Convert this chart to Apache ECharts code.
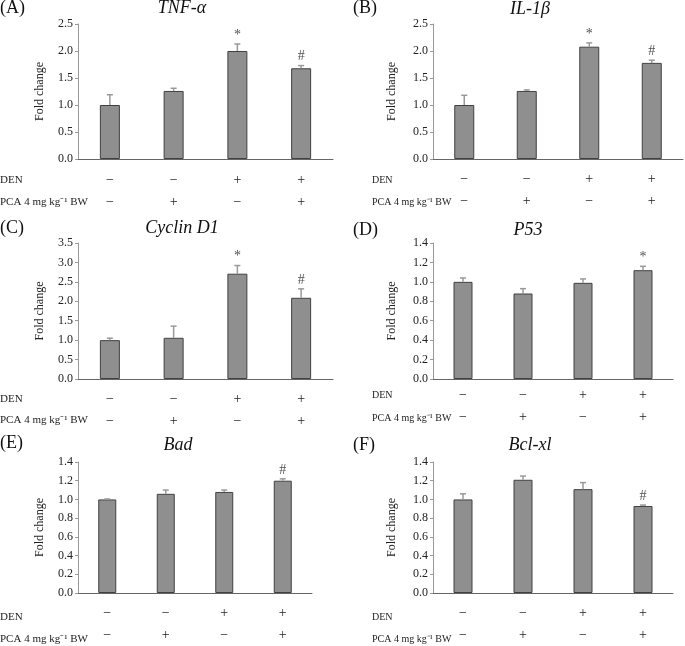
<!DOCTYPE html>
<html>
<head>
<meta charset="utf-8">
<script src="https://cdn.jsdelivr.net/npm/echarts@6/dist/echarts.min.js"></script>
<style>
html,body{margin:0;padding:0;background:#fff;}
#chart{width:685px;height:646px;}
</style>
</head>
<body>
<div id="chart"></div>
<script>
// ---- data ----
const groups = ['Control', 'PCA', 'DEN', 'DEN+PCA'];
const denSigns = ['\u2212', '\u2212', '+', '+'];
const pcaSigns = ['\u2212', '+', '\u2212', '+'];

const genes = ['TNF-\u03b1', 'IL-1\u03b2', 'Cyclin D1', 'P53', 'Bad', 'Bcl-xl'];
const panelLabels = ['(A)', '(B)', '(C)', '(D)', '(E)', '(F)'];

const meanA = [1.00, 1.26, 2.00, 1.68];
const errA  = [0.19, 0.05, 0.13, 0.05];
const sigA  = ['', '', '*', '#'];

const meanB = [1.00, 1.26, 2.08, 1.78];
const errB  = [0.18, 0.02, 0.07, 0.05];
const sigB  = ['', '', '*', '#'];

const meanC = [1.00, 1.06, 2.71, 2.09];
const errC  = [0.05, 0.30, 0.21, 0.23];
const sigC  = ['', '', '*', '#'];

const meanD = [1.00, 0.88, 0.99, 1.12];
const errD  = [0.04, 0.05, 0.04, 0.04];
const sigD  = ['', '', '', '*'];

const meanE = [1.00, 1.06, 1.08, 1.20];
const errE  = [0.005, 0.04, 0.02, 0.02];
const sigE  = ['', '', '', '#'];

const meanF = [1.00, 1.21, 1.11, 0.93];
const errF  = [0.06, 0.04, 0.07, 0.01];
const sigF  = ['', '', '', '#'];

const yMax = [2.5, 2.5, 3.5, 1.4, 1.4, 1.4];
const yStep = [0.5, 0.5, 0.5, 0.2, 0.2, 0.2];

const yName = 'Fold change';
const rowDEN = 'DEN';
const rowPCA = 'PCA 4 mg kg\u207b\u00b9 BW';

// ---- layout ----
const FONT = '"Liberation Serif", "Times New Roman", serif';
const means = [meanA, meanB, meanC, meanD, meanE, meanF];
const errs = [errA, errB, errC, errD, errE, errF];
const sigs = [sigA, sigB, sigC, sigD, sigE, sigF];

const grids = [
  {left: 78,  top: 24,  width: 255, height: 135},
  {left: 433, top: 24,  width: 250, height: 135},
  {left: 78,  top: 243, width: 255, height: 136},
  {left: 433, top: 243, width: 240, height: 136},
  {left: 78,  top: 462, width: 234, height: 135},
  {left: 433, top: 462, width: 240, height: 135}
];
const labelMargin = [10, 9, 9, 5, 9, 9];
const nameGaps = [32, 35, 32, 35, 32, 35];
const barWidths = [20, 20, 20, 19, 18, 19];
const titlePos = [[182, 8], [530, 9], [182, 228], [528, 230], [178, 445], [530, 445]];
const panelPos = [[0, 8], [353, 8], [0, 228], [353, 230], [0, 443], [353, 445]];
const rowPos = [[0, 180, 202], [372, 180, 202], [0, 399, 420], [372, 395, 418], [0, 617, 639], [372, 617, 639]];
const rowFont = [11, 10, 11, 10, 11, 10];

const xAxes = [], yAxes = [], series = [], graphics = [];

function renderErr(params, api) {
  const base = api.coord([api.value(0), api.value(1)]);
  const top = api.coord([api.value(0), api.value(2)]);
  const st = {stroke: '#9a9a9a', lineWidth: 1.5};
  return {
    type: 'group',
    children: [
      {type: 'line', shape: {x1: base[0], y1: base[1], x2: top[0], y2: top[1]}, style: st},
      {type: 'line', shape: {x1: top[0] - 3, y1: top[1], x2: top[0] + 3, y2: top[1]}, style: st}
    ]
  };
}

for (let k = 0; k < 6; k++) {
  xAxes.push({
    type: 'category', gridIndex: k, data: groups,
    axisLine: {lineStyle: {color: '#666', width: 1}},
    axisTick: {show: false},
    axisLabel: {
      margin: labelMargin[k], fontFamily: FONT, fontSize: 14, color: '#222', lineHeight: 22,
      formatter: (v, i) => denSigns[i] + '\n' + pcaSigns[i]
    }
  });
  yAxes.push({
    type: 'value', gridIndex: k, min: 0, max: yMax[k], interval: yStep[k],
    name: yName, nameLocation: 'middle', nameGap: nameGaps[k], nameRotate: 90,
    nameTextStyle: {fontFamily: FONT, fontSize: 12, color: '#222'},
    axisLine: {show: true, lineStyle: {color: '#999', width: 1}},
    axisTick: {show: true, length: 3, lineStyle: {color: '#999'}},
    splitLine: {show: false},
    axisLabel: {fontFamily: FONT, fontSize: 12, color: '#222', margin: 5,
      formatter: v => v.toFixed(1)}
  });
  series.push({
    type: 'bar', xAxisIndex: k, yAxisIndex: k, data: means[k], barWidth: barWidths[k],
    itemStyle: {color: '#8f8f8f', borderColor: '#404040', borderWidth: 1},
    silent: true, z: 2
  });
  series.push({
    type: 'custom', xAxisIndex: k, yAxisIndex: k, renderItem: renderErr,
    data: means[k].map((m, i) => [i, m, m + errs[k][i]]), z: 3, silent: true
  });
  series.push({
    type: 'scatter', xAxisIndex: k, yAxisIndex: k, symbolSize: 0,
    data: means[k].map((m, i) => [i, m + errs[k][i]]),
    label: {show: true, position: 'top', distance: 2, fontFamily: FONT, fontSize: 14, color: '#222',
      formatter: p => sigs[k][p.dataIndex]},
    silent: true, z: 4
  });
  graphics.push({type: 'text', x: titlePos[k][0], y: titlePos[k][1],
    style: {text: genes[k], font: 'italic 18px ' + FONT, fill: '#111', textAlign: 'center', textVerticalAlign: 'middle'}});
  graphics.push({type: 'text', x: panelPos[k][0], y: panelPos[k][1],
    style: {text: panelLabels[k], font: '18px ' + FONT, fill: '#111', textAlign: 'left', textVerticalAlign: 'middle'}});
  graphics.push({type: 'text', x: rowPos[k][0], y: rowPos[k][1],
    style: {text: rowDEN, font: rowFont[k] + 'px ' + FONT, fill: '#222', textAlign: 'left', textVerticalAlign: 'middle'}});
  graphics.push({type: 'text', x: rowPos[k][0], y: rowPos[k][2],
    style: {text: rowPCA, font: rowFont[k] + 'px ' + FONT, fill: '#222', textAlign: 'left', textVerticalAlign: 'middle'}});
}

const chart = echarts.init(document.getElementById('chart'), null, {renderer: 'canvas'});
chart.setOption({
  backgroundColor: '#fff',
  animation: false,
  grid: grids,
  xAxis: xAxes,
  yAxis: yAxes,
  series: series,
  graphic: graphics
});
</script>
</body>
</html>
